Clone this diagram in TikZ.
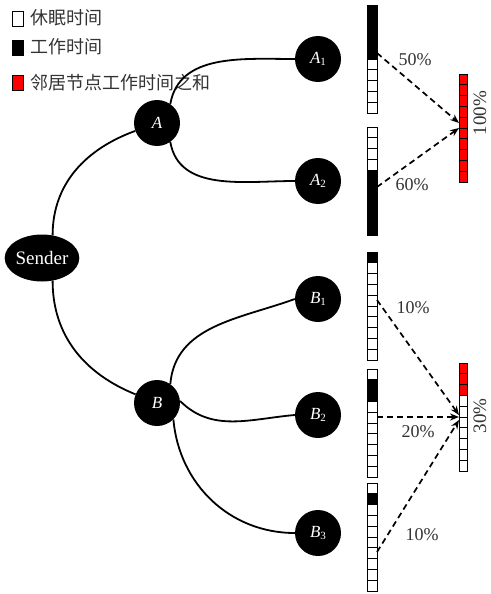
\documentclass[tikz,border=0pt]{standalone}
\usepackage{fontspec}
\setmainfont{Liberation Serif}
\newfontfamily\cjk{Noto Sans CJK SC}
\usetikzlibrary{arrows.meta,shapes.geometric}
\definecolor{txtgray}{gray}{0.2}
\newcommand\tsbar[5]{%
  \foreach \c [count=\i from 0] in {#5} {
    \draw[cellb, fill=\c] (#2,-#3-\i*10.8) rectangle ++(#4,-10.8);
  }
  \node[inner sep=0pt, minimum width=#4pt, minimum height=108pt, anchor=north west] (#1) at (#2,-#3) {};
}
\newcommand\sub[1]{\raisebox{-0.35ex}{\fontsize{11}{11}\selectfont #1}}
\begin{document}
\begin{tikzpicture}[x=1pt,y=1pt,
  nd/.style={circle,fill=black,text=white,minimum size=46pt,inner sep=0pt,font=\fontsize{17}{17}\selectfont},
  link/.style={line width=1.8pt},
  darr/.style={line width=1.7pt, dash pattern=on 6pt off 4pt, -{Stealth[length=9pt,width=7pt]}},
  pct/.style={font=\fontsize{18}{18}\selectfont, text=txtgray},
  cellb/.style={draw=black, line width=0.8pt},
  leg/.style={font=\cjk\fontsize{18}{18}\selectfont, text=txtgray, anchor=west, inner sep=0pt},
  legbox/.style={draw=black, line width=0.8pt}
]
\useasboundingbox (0,0) rectangle (490,-594);

% legend
\draw[legbox, fill=white] (12,-11) rectangle (23,-26);
\draw[legbox, fill=black] (12,-40) rectangle (23,-55);
\draw[legbox, fill=red] (12,-75) rectangle (23,-90);
\node[leg] (l1) at (30,-18) {休眠时间};
\node[leg] (l2) at (30,-47) {工作时间};
\node[leg] (l3) at (30,-83) {邻居节点工作时间之和};

% nodes
\node[ellipse,fill=black,text=white,minimum width=60pt,minimum height=47pt,inner sep=0pt,font=\fontsize{19}{19}\selectfont] (S) at (42,-258) {Sender};
\node[nd] (A) at (157,-123) {\textit{A}};
\node[nd] (A1) at (318,-59) {\textit{A}\sub{1}};
\node[nd] (A2) at (318,-181) {\textit{A}\sub{2}};
\node[nd] (B) at (157,-403) {\textit{B}};
\node[nd] (B1) at (318,-299) {\textit{B}\sub{1}};
\node[nd] (B2) at (318,-415) {\textit{B}\sub{2}};
\node[nd] (B3) at (318,-533) {\textit{B}\sub{3}};

% links
\draw[link] (S.65) to[out=90,in=200] (A);
\draw[link] (S.-65) to[out=-90,in=158] (B);
\draw[link] (A.55) to[out=80,in=180] (A1.west);
\draw[link] (A.-55) to[out=-80,in=180] (A2.west);
\draw[link] (B.55) to[out=85,in=200] (B1.west);
\draw[link] (B.5) to[out=-45,in=185] (B2.west);
\draw[link] (B.-45) to[out=-85,in=180] (B3.west);

% bars
\tsbar{ba1}{367}{5}{10}{black,black,black,black,black,white,white,white,white,white}
\tsbar{ba2}{367}{127}{10}{white,white,white,white,black,black,black,black,black,black}
\tsbar{bb1}{367}{252}{10}{black,white,white,white,white,white,white,white,white,white}
\tsbar{bb2}{367}{369}{10}{white,black,black,white,white,white,white,white,white,white}
\tsbar{bb3}{367}{483}{10}{white,black,white,white,white,white,white,white,white,white}
\tsbar{ra}{459}{74}{8}{red,red,red,red,red,red,red,red,red,red}
\tsbar{rb}{459}{363}{8}{red,red,red,white,white,white,white,white,white,white}

% arrow endpoints
\coordinate (a1o) at (377,-53);
\coordinate (a2o) at (377,-187);
\coordinate (rai) at (459,-123);
\coordinate (raj) at (459,-128);
\coordinate (b1o) at (377,-300);
\coordinate (b2o) at (377,-417);
\coordinate (b3o) at (377,-552);
\coordinate (rbi) at (459,-415);
\coordinate (rbj) at (459,-417);
\coordinate (rbk) at (459,-420);

\draw[darr] (a1o) -- (rai);
\draw[darr] (a2o) -- (raj);
\draw[darr] (b1o) -- (rbi);
\draw[darr] (b2o) -- (rbj);
\draw[darr] (b3o) -- (rbk);

% labels
\node[pct] (p1) at (415,-60) {50\%};
\node[pct] (p2) at (412,-185) {60\%};
\node[pct] (p3) at (413,-308) {10\%};
\node[pct] (p4) at (418,-432) {20\%};
\node[pct] (p5) at (422,-535) {10\%};
\node[pct, rotate=90, font=\fontsize{19}{19}\selectfont, inner sep=0pt] (p6) at (480,-113) {100\%};
\node[pct, rotate=90, font=\fontsize{19}{19}\selectfont, inner sep=0pt] (p7) at (480,-416) {30\%};
\end{tikzpicture}
\end{document}
